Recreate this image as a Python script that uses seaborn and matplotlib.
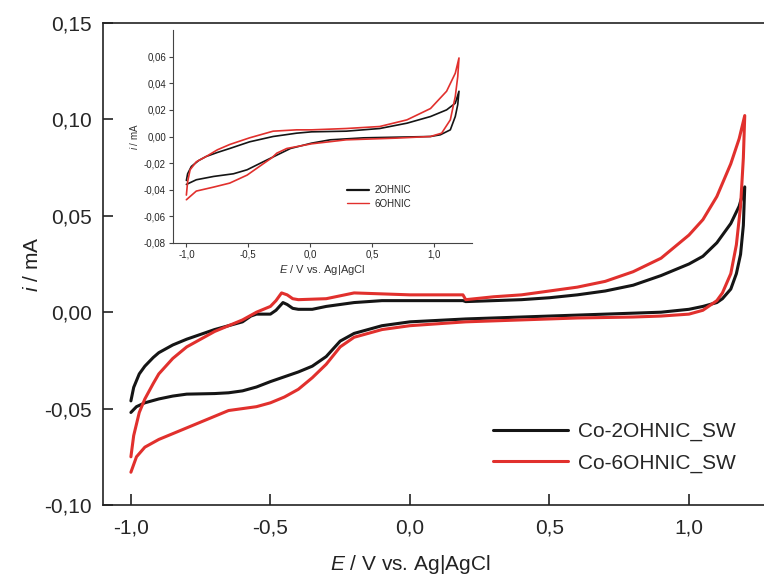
import numpy as np
import pandas as pd
import matplotlib
matplotlib.use("Agg")
import matplotlib.pyplot as plt
import seaborn as sns

# ---------------- data ----------------
series_main = ["Co-2OHNIC_SW", "Co-6OHNIC_SW"]
series_inset = ["2OHNIC", "6OHNIC"]
colors = ["#151515", "#e1302d"]

E_black = [-1.0, -0.99, -0.97, -0.95, -0.92, -0.9, -0.85, -0.8, -0.7, -0.6, -0.57, -0.55, -0.5, -0.48, -0.455,
           -0.44, -0.42, -0.4, -0.35, -0.3, -0.2, -0.1, 0.0, 0.19, 0.2, 0.3, 0.4, 0.5, 0.6, 0.7, 0.8, 0.9, 1.0,
           1.05, 1.1, 1.15, 1.18, 1.2,
           1.195, 1.185, 1.17, 1.15, 1.12, 1.1, 1.05, 1.0, 0.9, 0.8, 0.6, 0.4, 0.2, 0.0, -0.1, -0.2, -0.25,
           -0.3, -0.35, -0.4, -0.5, -0.55, -0.6, -0.65, -0.7, -0.8, -0.85, -0.9, -0.95, -0.98, -1.0]
i_black = [-0.046, -0.039, -0.032, -0.028, -0.0235, -0.021, -0.017, -0.014, -0.009, -0.005, -0.002, -0.001,
           -0.001, 0.001, 0.005, 0.004, 0.002, 0.0015, 0.0015, 0.003, 0.005, 0.006, 0.006, 0.006, 0.0055, 0.006,
           0.0065, 0.0075, 0.009, 0.011, 0.014, 0.019, 0.025, 0.029, 0.036, 0.046, 0.055, 0.065,
           0.045, 0.030, 0.020, 0.012, 0.007, 0.005, 0.003, 0.0015, 0.0, -0.0005, -0.0015, -0.0025, -0.0035,
           -0.005, -0.007, -0.011, -0.015, -0.023, -0.028, -0.031, -0.036, -0.0388, -0.0408, -0.0418, -0.0422,
           -0.0425, -0.0435, -0.045, -0.047, -0.049, -0.052]

E_red = [-1.0, -0.99, -0.97, -0.95, -0.92, -0.9, -0.85, -0.8, -0.7, -0.6, -0.55, -0.5, -0.48, -0.46, -0.44,
         -0.42, -0.4, -0.3, -0.2, -0.1, 0.0, 0.19, 0.2, 0.3, 0.4, 0.5, 0.6, 0.7, 0.8, 0.9, 1.0, 1.05, 1.1, 1.15,
         1.18, 1.2,
         1.195, 1.185, 1.17, 1.15, 1.12, 1.1, 1.05, 1.0, 0.9, 0.8, 0.6, 0.4, 0.2, 0.0, -0.1, -0.2, -0.25, -0.3,
         -0.35, -0.4, -0.45, -0.5, -0.55, -0.6, -0.65, -0.7, -0.8, -0.9, -0.95, -0.98, -1.0]
i_red = [-0.075, -0.064, -0.052, -0.045, -0.037, -0.032, -0.024, -0.018, -0.010, -0.004, 0.0, 0.003, 0.006,
         0.010, 0.009, 0.007, 0.0065, 0.007, 0.010, 0.0095, 0.009, 0.009, 0.0065, 0.008, 0.009, 0.011, 0.013,
         0.016, 0.021, 0.028, 0.040, 0.048, 0.060, 0.077, 0.090, 0.102,
         0.080, 0.055, 0.035, 0.020, 0.010, 0.006, 0.001, -0.001, -0.002, -0.0025, -0.003, -0.004, -0.005,
         -0.007, -0.009, -0.013, -0.018, -0.027, -0.034, -0.040, -0.044, -0.047, -0.049, -0.050, -0.051,
         -0.054, -0.060, -0.066, -0.070, -0.075, -0.083]

# inset curves
E_black_in = [-1.0, -0.99, -0.96, -0.9, -0.84, -0.75, -0.65, -0.49, -0.3, -0.11, 0.01, 0.29, 0.56, 0.78, 0.97,
              1.1, 1.17, 1.2,
              1.19, 1.17, 1.13, 1.05, 0.97, 0.7, 0.43, 0.16, 0.01, -0.16, -0.27, -0.38, -0.51, -0.62, -0.78,
              -0.92, -1.0]
i_black_in = [-0.033, -0.028, -0.0225, -0.018, -0.015, -0.012, -0.009, -0.004, 0.0, 0.0025, 0.0035, 0.004,
              0.006, 0.010, 0.015, 0.020, 0.025, 0.034,
              0.024, 0.015, 0.005, 0.0013, 0.0, -0.0005, -0.001, -0.0025, -0.005, -0.009, -0.014, -0.019,
              -0.025, -0.028, -0.030, -0.0325, -0.036]

E_red_in = [-1.0, -0.99, -0.97, -0.92, -0.84, -0.75, -0.65, -0.49, -0.3, -0.11, 0.01, 0.29, 0.56, 0.78, 0.97,
            1.1, 1.17, 1.2,
            1.19, 1.17, 1.13, 1.06, 0.97, 0.7, 0.29, 0.01, -0.19, -0.27, -0.31, -0.38, -0.51, -0.65, -0.78,
            -0.92, -1.0]
i_red_in = [-0.044, -0.034, -0.025, -0.019, -0.015, -0.010, -0.006, -0.001, 0.004, 0.005, 0.005, 0.006,
            0.0075, 0.0125, 0.021, 0.034, 0.0475, 0.059,
            0.045, 0.030, 0.0125, 0.0025, 0.0, -0.0012, -0.0025, -0.0055, -0.009, -0.0125, -0.016, -0.0205,
            -0.029, -0.035, -0.038, -0.041, -0.0475]

main_xticks = [-1.0, -0.5, 0.0, 0.5, 1.0]
main_xticklabels = ["-1,0", "-0,5", "0,0", "0,5", "1,0"]
main_yticks = [-0.10, -0.05, 0.00, 0.05, 0.10, 0.15]
main_yticklabels = ["-0,10", "-0,05", "0,00", "0,05", "0,10", "0,15"]
inset_xticks = [-1.0, -0.5, 0.0, 0.5, 1.0]
inset_xticklabels = ["-1,0", "-0,5", "0,0", "0,5", "1,0"]
inset_yticks = [-0.08, -0.06, -0.04, -0.02, 0.00, 0.02, 0.04, 0.06]
inset_yticklabels = ["-0,08", "-0,06", "-0,04", "-0,02", "0,00", "0,02", "0,04", "0,06"]


def frame(Es, Is, names):
    parts = []
    for E, I, n in zip(Es, Is, names):
        parts.append(pd.DataFrame({"E": E, "i": I, "series": n}))
    return pd.concat(parts, ignore_index=True)


df_main = frame([E_black, E_red], [i_black, i_red], series_main)
df_in = frame([E_black_in, E_red_in], [i_black_in, i_red_in], series_inset)

# ---------------- style ----------------
sns.set_theme(style="ticks")
plt.rcParams["font.family"] = ["Liberation Sans", "DejaVu Sans"]
plt.rcParams["mathtext.fontset"] = "custom"
plt.rcParams["mathtext.it"] = "Liberation Sans:italic"
plt.rcParams["mathtext.rm"] = "Liberation Sans"
plt.rcParams["axes.edgecolor"] = "#222222"

fig = plt.figure(figsize=(7.64, 5.79), dpi=100)
ax = fig.add_axes([103 / 764, 1 - 505 / 579, 1 - 103 / 764, (505 - 23) / 579])

sns.lineplot(data=df_main, x="E", y="i", hue="series", sort=False, estimator=None,
             palette=colors, hue_order=series_main, linewidth=2.2, ax=ax)
for ln in ax.get_lines():
    ln.set_solid_joinstyle("round")

ax.set_xlim(-1.1, 1.269)
ax.set_ylim(-0.10, 0.15)
ax.set_xticks(main_xticks)
ax.set_xticklabels(main_xticklabels)
ax.set_yticks(main_yticks)
ax.set_yticklabels(main_yticklabels)
ax.tick_params(axis="both", direction="in", labelsize=15, width=1.2, color="#222222")
ax.tick_params(axis="x", length=8, pad=10)
ax.tick_params(axis="y", length=7, pad=8)
for s in ["left", "bottom", "top"]:
    ax.spines[s].set_linewidth(1.2)
ax.spines["right"].set_visible(False)
ax.set_xlabel(r"$\it{E}$ / V vs. Ag|AgCl", fontsize=15, color="#222222")
ax.set_ylabel(r"$\it{i}$ / mA", fontsize=15, color="#222222")
ax.xaxis.set_label_coords((410 - 103) / 661, -0.1)
ax.yaxis.set_label_coords(-0.092, 0.5)

h, l = ax.get_legend_handles_labels()
leg = ax.legend(h, series_main, loc="upper left", bbox_to_anchor=((493 - 103) / 661, (505 - 422) / 482),
                frameon=False, fontsize=15, handlelength=3.6, handletextpad=0.5, borderpad=0,
                borderaxespad=0, labelspacing=0.6)
for line in leg.get_lines():
    line.set_linewidth(2.2)

# ---------------- inset ----------------
axi = fig.add_axes([173 / 764, 1 - 243 / 579, (472 - 173) / 764, (243 - 30) / 579])
sns.lineplot(data=df_in, x="E", y="i", hue="series", sort=False, estimator=None, palette=colors,
             hue_order=series_inset, linewidth=1.2, ax=axi)
for ln in axi.get_lines():
    ln.set_solid_joinstyle("round")
axi.set_xlim(-1.108, 1.305)
axi.set_ylim(-0.08, 0.08)
axi.set_xticks(inset_xticks)
axi.set_xticklabels(inset_xticklabels)
axi.set_yticks(inset_yticks)
axi.set_yticklabels(inset_yticklabels)
axi.tick_params(axis="both", direction="out", labelsize=7, length=3, width=0.8, pad=2, color="#444444")
for s in ["left", "bottom"]:
    axi.spines[s].set_linewidth(0.8)
    axi.spines[s].set_color("#444444")
axi.spines["top"].set_visible(False)
axi.spines["right"].set_visible(False)
axi.set_xlabel(r"$\it{E}$ / V vs. Ag|AgCl", fontsize=8, labelpad=2, color="#333333")
axi.set_ylabel(r"$\it{i}$ / mA", fontsize=7, labelpad=3, color="#333333")
hi, li = axi.get_legend_handles_labels()
legi = axi.legend(hi, series_inset, loc="upper left", bbox_to_anchor=(0.582, 0.27), frameon=False,
                  fontsize=7, handlelength=2.3, handletextpad=0.5, borderpad=0, borderaxespad=0,
                  labelspacing=0.35)
legi.get_lines()[0].set_linewidth(1.6)
legi.get_lines()[1].set_linewidth(1.0)

fig.savefig("out.png", dpi=100)
